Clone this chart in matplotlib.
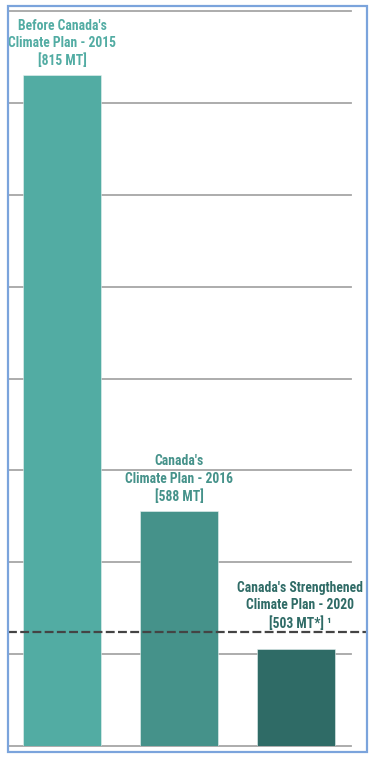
import matplotlib.pyplot as plt
from matplotlib.patches import Rectangle

# données
plans = ["Before Canada's\nClimate Plan - 2015\n[815 MT]",
         "Canada's\nClimate Plan - 2016\n[588 MT]",
         "Canada's Strengthened\nClimate Plan - 2020\n[503 MT*] ¹"]
emissions = [815, 578, 503]   # hauteur des barres (MT)
cible = 512                   # ligne pointillée
graduations = list(range(450, 851, 50))

couleurs = ['#52aca3', '#45928a', '#2f6b66']
police = ['Roboto Condensed', 'Liberation Sans Narrow', 'Roboto']

fig = plt.figure(figsize=(3.74, 7.6), dpi=100)
ax = fig.add_axes([9/374, 14/760, 342/374, 735/760])

x = range(len(emissions))
barres = ax.bar(x, emissions, width=0.667, color=couleurs, edgecolor='#e8f2f1',
                linewidth=0.4, zorder=2)

# étiquettes au-dessus des barres
decalages = [5, 5, 13]
for b, txt, c, d in zip(barres, plans, couleurs, decalages):
    ax.annotate(txt, (b.get_x() + b.get_width()/2, b.get_height()),
                xytext=(3 if c == couleurs[2] else 0, d), textcoords='offset points',
                ha='center', va='bottom', color=c, fontsize=9.8,
                fontweight='bold', family=police, linespacing=1.3)

ax.axhline(cible, xmin=-0.003, xmax=1.047, color='#444444', lw=1.6,
           ls=(0, (4.0, 1.5)), clip_on=False, zorder=3)

ax.set_xlim(-0.453, 2.47)
ax.set_ylim(450, 850)
ax.set_yticks(graduations)
ax.yaxis.grid(True, color='#a6a6a6', lw=1.3)
for gl in ax.get_ygridlines():
    gl.set_clip_on(False)
ax.set_axisbelow(True)
ax.tick_params(length=0, labelleft=False, labelbottom=False)
for s in ax.spines.values():
    s.set_visible(False)

# cadre bleu autour de la figure
fig.patches.append(Rectangle((8/374, 8/760), 359/374, 746/760, transform=fig.transFigure,
                             fill=False, edgecolor='#7ba4dc', lw=1.6))

plt.savefig('out.png', dpi=100)
